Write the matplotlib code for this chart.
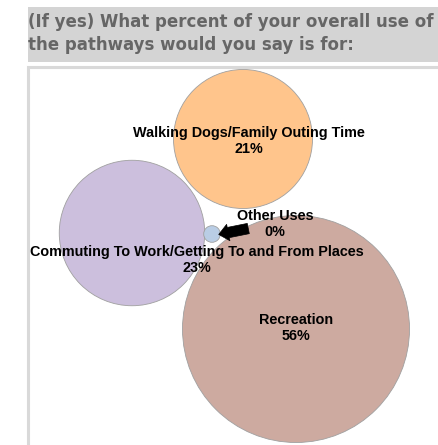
import numpy as np
import matplotlib.pyplot as plt
from matplotlib.patches import Circle, Rectangle

categories = ['Walking Dogs/Family Outing Time',
              'Commuting To Work/Getting To and From Places',
              'Other Uses',
              'Recreation']
shares = [21, 23, 0.3, 56]          # percent of pathway use

# bubble layout (pixel coords, y down) and label anchors
centers = [(243, 139), (132, 233), (212, 234), (296, 329)]
label_pos = [(249, 141), (197, 260), (275, 224), (296, 328)]
colors = ['#FFC58C', '#CCBFDD', '#B9CDE5', '#CDAAA0']

W, H = 439, 445
fig = plt.figure(figsize=(W / 100, H / 100), dpi=100)
ax = fig.add_axes([0, 0, 1, 1])
ax.set_xlim(0, W)
ax.set_ylim(H, 0)
ax.set_aspect('equal')
ax.axis('off')

# title band
ax.add_patch(Rectangle((28, 7), W - 28, 55, facecolor='#D4D4D4', edgecolor='none'))
ax.text(28, 22, '(If yes) What percent of your overall use of', fontsize=12.0,
        fontweight='bold', color='#666666', va='center', ha='left', clip_on=True)
ax.text(28, 45, 'the pathways would you say is for:', fontsize=12.0,
        fontweight='bold', color='#666666', va='center', ha='left', clip_on=True)

# chart panel frame
panel = Rectangle((28, 66.5), W, H, facecolor='white', edgecolor='#D9D9D9', lw=2.2)
ax.add_patch(panel)

scale = 113.5 / np.sqrt(56)
for (cx, cy), v, c in zip(centers, shares, colors):
    ax.add_patch(Circle((cx, cy), scale * np.sqrt(v), facecolor=c,
                        edgecolor='#A0A0A0', lw=0.6))

# callout for the tiny slice
ax.annotate('', xy=(216, 235), xytext=(251, 228),
            arrowprops=dict(arrowstyle='simple,head_width=1.2,head_length=0.7,tail_width=0.75',
                            facecolor='black', edgecolor='black', lw=0.5))

for name, v, (lx, ly) in zip(categories, shares, label_pos):
    t = ax.text(lx, ly, f'{name}\n{v:.0f}%', ha='center', va='center',
                family='Liberation Sans', fontweight='bold', fontsize=10.4,
                color='black', linespacing=1.2)
    t.set_clip_path(panel)

fig.savefig('out.png', dpi=100)
